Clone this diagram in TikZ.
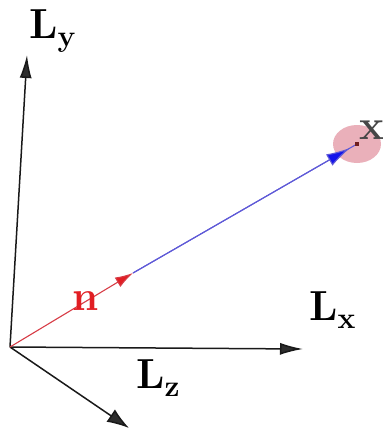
\documentclass[tikz,border=0pt]{standalone}
\usepackage{fontspec}
\usetikzlibrary{arrows.meta,calc}
\definecolor{axisc}{RGB}{25,25,25}
\definecolor{headc}{RGB}{45,45,45}
\definecolor{redn}{RGB}{225,30,35}
\definecolor{redl}{RGB}{215,60,70}
\definecolor{bluel}{RGB}{95,90,215}
\definecolor{blueh}{RGB}{20,20,235}
\definecolor{pinkf}{RGB}{234,176,186}
\definecolor{dotc}{RGB}{110,30,30}
\definecolor{xgray}{RGB}{70,70,70}
\begin{document}
\begin{tikzpicture}[x=1pt,y=-1pt,
  axis/.style={line width=1.5pt, draw=axisc, -{Latex[length=23pt,width=12pt,fill=headc]}},
  lab/.style={font=\fontsize{42}{46}\selectfont\bfseries, inner sep=0pt},
]
\newcommand{\subx}[1]{\raisebox{-8pt}{\fontsize{30}{32}\selectfont #1}}
\useasboundingbox (0,0) rectangle (383,432);
\coordinate (O) at (10,347);
\coordinate (Y) at (27,55);
\coordinate (X) at (303,349);
\coordinate (Z) at (129,428);
\coordinate (N) at (133,273);
\coordinate (C) at (357,144);
% ellipse
\fill[pinkf] (C) ellipse [x radius=24, y radius=19];
% axes
\draw[axis] (O) -- (Y);
\draw[axis] (O) -- (X);
\draw[axis, -{Latex[length=22pt,width=15pt,fill=headc]}] (O) -- (Z);
% vectors
\draw[line width=1.1pt, redl, -{Latex[length=18pt,width=11pt,fill=redn]}] (O) -- (N);
\draw[line width=1.1pt, bluel] (N) -- (C);
\draw[line width=1.1pt, bluel, -{Latex[length=24pt,width=13pt,fill=blueh]}, shorten >=8pt] (N) -- (C);
\fill[dotc] ($(C)+(-2,-2)$) rectangle ++(4,4);
% labels
\node[lab, anchor=base west] (ly) at (29,38) {L\subx{y}};
\node[lab, anchor=base west] (lx) at (309,320) {L\subx{x}};
\node[lab, anchor=base west] (lz) at (136,388) {L\subx{z}};
\node[lab, anchor=base west, text=redn] (nl) at (72,310) {n};
\node[lab, anchor=base west, text=xgray] (xl) at (359,139) {x};
\end{tikzpicture}
\end{document}
